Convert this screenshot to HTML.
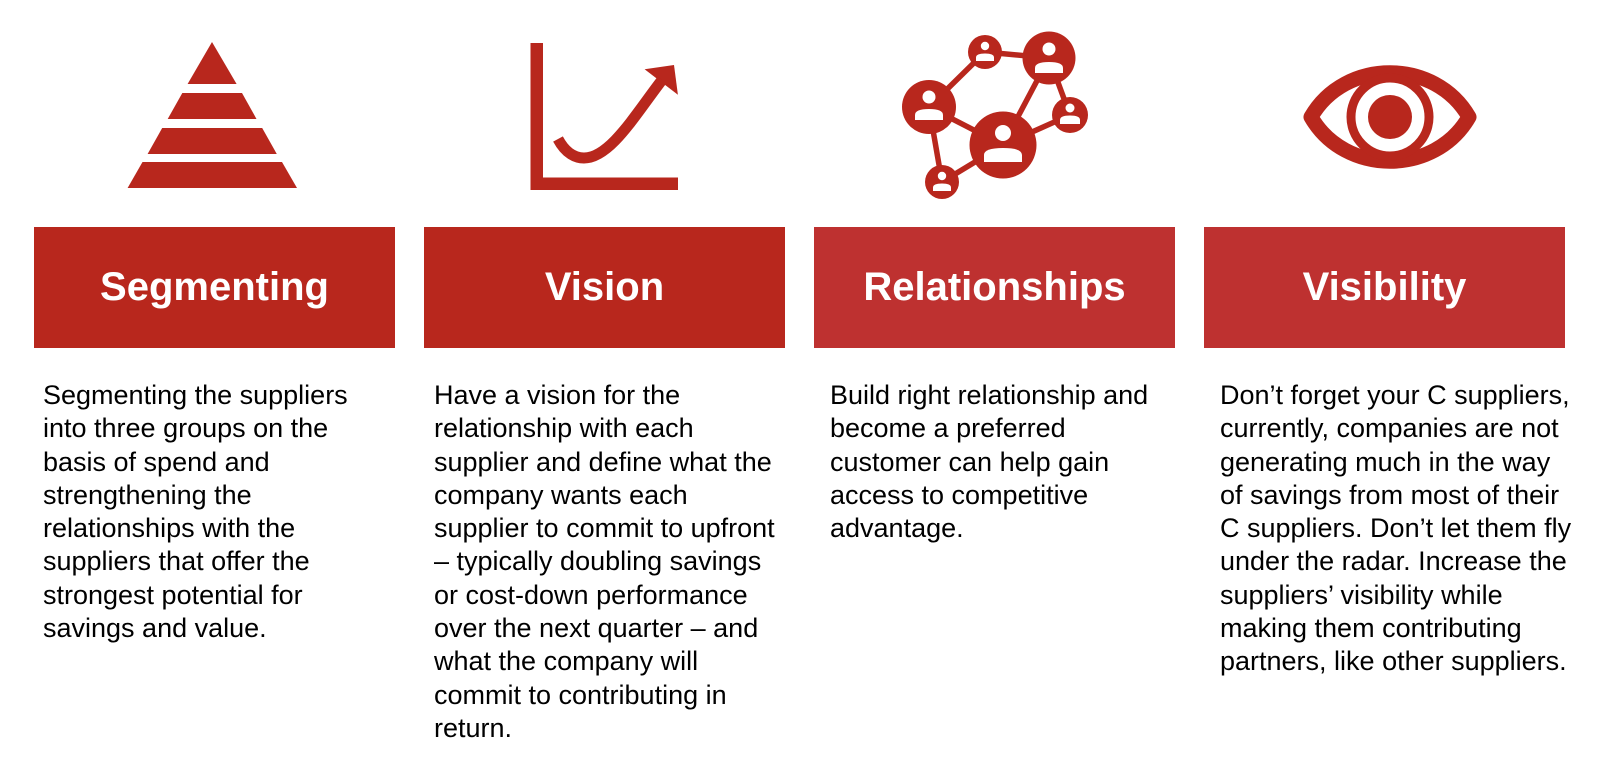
<!DOCTYPE html>
<html><head><meta charset="utf-8"><style>
html,body{margin:0;padding:0;background:#fff;width:1610px;height:776px;overflow:hidden;position:relative}
.box{position:absolute;top:227px;height:121px;width:361px;color:#fff;font:bold 40px "Liberation Sans",sans-serif;display:flex;align-items:center;justify-content:center}
.t{position:absolute;top:379px;font:27px/33.3px "Liberation Sans",sans-serif;color:#000;white-space:nowrap}
</style></head><body>
<svg width="1610" height="776" style="position:absolute;left:0;top:0">
<g fill="#B8271D">
<polygon points="212,42 236.6,84 187.6,84"/>
<polygon points="182.3,93 242,93 256.5,119 167.7,119"/>
<polygon points="162.2,128 262.2,128 276.8,154 147.6,154"/>
<polygon points="142.5,162 282,162 297,188 127.6,188"/>
<rect x="530.5" y="43" width="12.5" height="147"/>
<rect x="530.5" y="177.5" width="147.5" height="12.5"/>
<polygon points="644.6,69.3 674,65 677.9,94.7"/>
</g>
<path d="M558,139 C566,154 576,158 584,158 C610,158 635,115 662,80" fill="none" stroke="#B8271D" stroke-width="11"/>
<g stroke="#B8271D" stroke-width="5.5">
<line x1="929" y1="107" x2="985" y2="52"/><line x1="985" y1="52" x2="1049" y2="58"/>
<line x1="1049" y1="58" x2="1003" y2="145"/><line x1="1049" y1="58" x2="1070" y2="115"/>
<line x1="1070" y1="115" x2="1003" y2="145"/><line x1="929" y1="107" x2="1003" y2="145"/>
<line x1="929" y1="107" x2="942" y2="182"/><line x1="942" y1="182" x2="1003" y2="145"/>
</g>
<g fill="#B8271D">
<circle cx="929" cy="107" r="27"/><circle cx="985" cy="52" r="17"/><circle cx="1049" cy="58" r="26.5"/>
<circle cx="1070" cy="115" r="18"/><circle cx="1003" cy="145" r="33.5"/><circle cx="942" cy="182" r="17"/>
</g>
<g fill="#fff">
<circle cx="929" cy="97" r="6.5"/><path d="M915,120 v-5 q0,-6 14,-6 q14,0 14,6 v5z"/>
<circle cx="985" cy="46" r="4.2"/><path d="M976,61 v-3.5 q0,-4 9,-4 q9,0 9,4 v3.5z"/>
<circle cx="1049" cy="49" r="6.5"/><path d="M1035,73 v-5 q0,-6 14,-6 q14,0 14,6 v5z"/>
<circle cx="1070" cy="108" r="4.5"/><path d="M1060,124 v-4 q0,-4.5 10,-4.5 q10,0 10,4.5 v4z"/>
<circle cx="1003" cy="133" r="8"/><path d="M984,162 v-7 q0,-7 19,-7 q19,0 19,7 v7z"/>
<circle cx="942" cy="176" r="4.2"/><path d="M933,191 v-3.5 q0,-4 9,-4 q9,0 9,4 v3.5z"/>
</g>
<path d="M1311,117 C1345,58 1435,58 1469,117 C1435,176 1345,176 1311,117Z" fill="none" stroke="#B8271D" stroke-width="15" stroke-linejoin="round"/>
<circle cx="1390" cy="117" r="39" fill="none" stroke="#B8271D" stroke-width="9"/>
<circle cx="1390" cy="117" r="22" fill="#B8271D"/>
</svg>
<div class="box" style="left:34px;background:#B8271D">Segmenting</div>
<div class="box" style="left:424px;background:#B8271D">Vision</div>
<div class="box" style="left:814px;background:#BE3130">Relationships</div>
<div class="box" style="left:1204px;background:#BE3130">Visibility</div>
<div class="t" style="left:43px">Segmenting the suppliers<br>into three groups on the<br>basis of spend and<br>strengthening the<br>relationships with the<br>suppliers that offer the<br>strongest potential for<br>savings and value.</div>
<div class="t" style="left:434px">Have a vision for the<br>relationship with each<br>supplier and define what the<br>company wants each<br>supplier to commit to upfront<br>– typically doubling savings<br>or cost-down performance<br>over the next quarter – and<br>what the company will<br>commit to contributing in<br>return.</div>
<div class="t" style="left:830px">Build right relationship and<br>become a preferred<br>customer can help gain<br>access to competitive<br>advantage.</div>
<div class="t" style="left:1220px">Don’t forget your C suppliers,<br>currently, companies are not<br>generating much in the way<br>of savings from most of their<br>C suppliers. Don’t let them fly<br>under the radar. Increase the<br>suppliers’ visibility while<br>making them contributing<br>partners, like other suppliers.</div>
</body></html>
